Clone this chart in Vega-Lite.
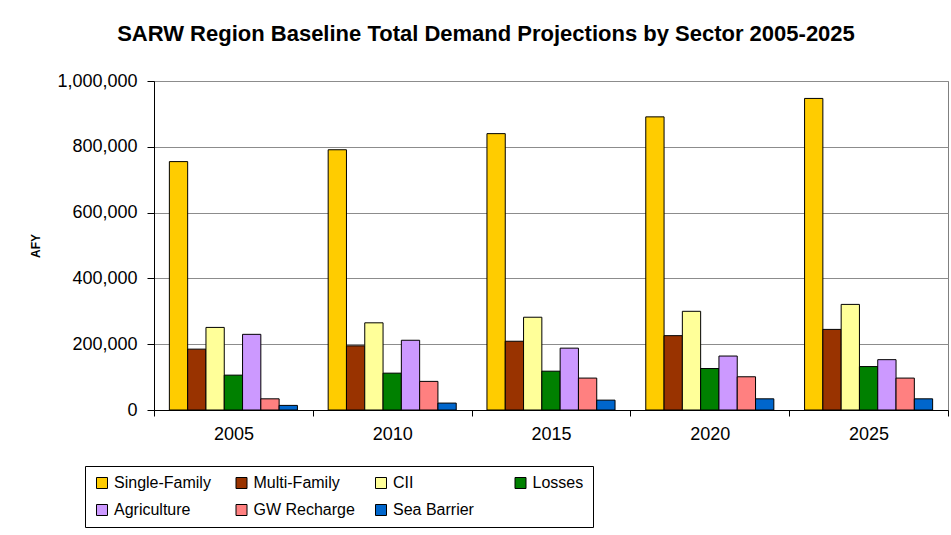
{
  "$schema": "https://vega.github.io/schema/vega-lite/v6.json",
  "width": 794,
  "height": 329,
  "autosize": {"type": "none"},
  "padding": {"left": 154, "top": 81, "right": 3, "bottom": 125},
  "background": "white",
  "config": {
    "font": "Liberation Sans",
    "view": {"stroke": "#808080", "strokeWidth": 1}
  },
  "title": {
    "text": "SARW Region Baseline Total Demand Projections by Sector 2005-2025",
    "font": "Liberation Sans",
    "fontSize": 22,
    "fontWeight": "bold",
    "color": "black",
    "anchor": "middle",
    "frame": "group",
    "dx": -65,
    "offset": 26
  },
  "data": {
    "values": [
      {"year": "2005", "sector": "Single-Family", "value": 755000},
      {"year": "2005", "sector": "Multi-Family", "value": 185000},
      {"year": "2005", "sector": "CII", "value": 251000},
      {"year": "2005", "sector": "Losses", "value": 106000},
      {"year": "2005", "sector": "Agriculture", "value": 230000},
      {"year": "2005", "sector": "GW Recharge", "value": 34000},
      {"year": "2005", "sector": "Sea Barrier", "value": 14000},
      {"year": "2010", "sector": "Single-Family", "value": 791000},
      {"year": "2010", "sector": "Multi-Family", "value": 195000},
      {"year": "2010", "sector": "CII", "value": 265000},
      {"year": "2010", "sector": "Losses", "value": 112000},
      {"year": "2010", "sector": "Agriculture", "value": 212000},
      {"year": "2010", "sector": "GW Recharge", "value": 87000},
      {"year": "2010", "sector": "Sea Barrier", "value": 21000},
      {"year": "2015", "sector": "Single-Family", "value": 840000},
      {"year": "2015", "sector": "Multi-Family", "value": 209000},
      {"year": "2015", "sector": "CII", "value": 282000},
      {"year": "2015", "sector": "Losses", "value": 118000},
      {"year": "2015", "sector": "Agriculture", "value": 188000},
      {"year": "2015", "sector": "GW Recharge", "value": 97000},
      {"year": "2015", "sector": "Sea Barrier", "value": 30000},
      {"year": "2020", "sector": "Single-Family", "value": 891000},
      {"year": "2020", "sector": "Multi-Family", "value": 226000},
      {"year": "2020", "sector": "CII", "value": 300000},
      {"year": "2020", "sector": "Losses", "value": 126000},
      {"year": "2020", "sector": "Agriculture", "value": 164000},
      {"year": "2020", "sector": "GW Recharge", "value": 101000},
      {"year": "2020", "sector": "Sea Barrier", "value": 34000},
      {"year": "2025", "sector": "Single-Family", "value": 947000},
      {"year": "2025", "sector": "Multi-Family", "value": 245000},
      {"year": "2025", "sector": "CII", "value": 321000},
      {"year": "2025", "sector": "Losses", "value": 132000},
      {"year": "2025", "sector": "Agriculture", "value": 153000},
      {"year": "2025", "sector": "GW Recharge", "value": 97000},
      {"year": "2025", "sector": "Sea Barrier", "value": 34000}
    ]
  },
  "mark": {"type": "bar", "stroke": "black", "strokeWidth": 1},
  "encoding": {
    "x": {
      "field": "year",
      "type": "nominal",
      "scale": {"paddingInner": 0, "paddingOuter": 0},
      "axis": {
        "title": null,
        "labelAngle": 0,
        "labelFont": "Liberation Sans",
        "labelFontSize": 18,
        "labelColor": "black",
        "labelPadding": 9,
        "tickBand": "extent",
        "tickColor": "black",
        "tickSize": 6,
        "domainColor": "black",
        "grid": false
      }
    },
    "xOffset": {
      "field": "sector",
      "type": "nominal",
      "sort": ["Single-Family", "Multi-Family", "CII", "Losses", "Agriculture", "GW Recharge", "Sea Barrier"],
      "scale": {"paddingInner": 0, "paddingOuter": 0.84}
    },
    "y": {
      "field": "value",
      "type": "quantitative",
      "scale": {"domain": [0, 1000000]},
      "axis": {
        "title": "AFY",
        "titleFont": "Liberation Sans",
        "titleFontSize": 12,
        "titleFontWeight": "bold",
        "titleColor": "black",
        "titlePadding": 14,
        "values": [0, 200000, 400000, 600000, 800000, 1000000],
        "format": ",.0f",
        "labelFont": "Liberation Sans",
        "labelFontSize": 18,
        "labelColor": "black",
        "labelPadding": 10,
        "tickColor": "black",
        "tickSize": 7,
        "domainColor": "black",
        "gridColor": "#8c8c8c",
        "gridWidth": 1
      }
    },
    "color": {
      "field": "sector",
      "type": "nominal",
      "sort": ["Single-Family", "Multi-Family", "CII", "Losses", "Agriculture", "GW Recharge", "Sea Barrier"],
      "scale": {
        "domain": ["Single-Family", "Multi-Family", "CII", "Losses", "Agriculture", "GW Recharge", "Sea Barrier"],
        "range": ["#FFCC00", "#993300", "#FFFF99", "#008000", "#CC99FF", "#FF8080", "#0066CC"]
      },
      "legend": {
        "title": null,
        "orient": "none",
        "legendX": -69,
        "legendY": 385,
        "direction": "horizontal",
        "columns": 4,
        "gridAlign": "all",
        "columnPadding": 17.5,
        "rowPadding": 11,
        "padding": 9,
        "strokeColor": "black",
        "fillColor": "white",
        "symbolType": "square",
        "symbolSize": 121,
        "symbolStrokeColor": "black",
        "symbolStrokeWidth": 1,
        "labelFont": "Liberation Sans",
        "labelFontSize": 16,
        "labelColor": "black",
        "labelOffset": 4
      }
    }
  }
}
